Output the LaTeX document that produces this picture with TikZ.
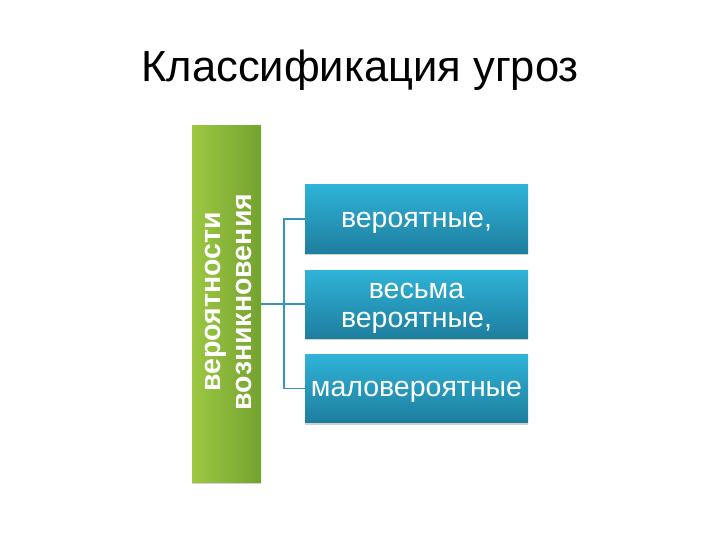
\documentclass[tikz,border=0pt]{standalone}
\usepackage{fontspec}
\setmainfont{Liberation Sans}
\usetikzlibrary{shadows}
\definecolor{gA}{HTML}{9CC843}
\definecolor{gB}{HTML}{74A22F}
\definecolor{bA}{HTML}{2FB3D8}
\definecolor{bB}{HTML}{1E7E9E}
\definecolor{lineC}{HTML}{3597B8}
\tikzset{
  greenbox/.style={draw=none, left color=gA, right color=gB, minimum width=69pt, minimum height=356pt, inner sep=0pt,
    drop shadow={shadow xshift=0pt, shadow yshift=-2pt, fill=black!30, opacity=0.6}},
  bluebox/.style={draw=none, top color=bA, bottom color=bB, minimum width=223pt, minimum height=68pt, inner sep=0pt,
    drop shadow={shadow xshift=0pt, shadow yshift=-2pt, fill=black!30, opacity=0.6}},
  bluetext/.style={anchor=base, text=white, font=\fontsize{28.5}{30}\selectfont, inner sep=0pt},
  conn/.style={draw=lineC, line width=1.3pt},
}
\begin{document}
\begin{tikzpicture}[x=1pt,y=-1pt]
\useasboundingbox (0,0) rectangle (720,540);
\node (title) at (360,70) {\fontsize{43.5}{48}\selectfont Классификация угроз};
\node[greenbox] (g) at (226.5,304) {};
\node[rotate=90, text=white, font=\bfseries\fontsize{28.5}{31}\selectfont, align=center, inner sep=0pt] (gt) at (228,302) {вероятности\\возникновения};
\node[bluebox] (b1) at (416.5,219) {};
\node[bluebox] (b2) at (416.5,304) {};
\node[bluebox] (b3) at (416.5,388.5) {};
\node[bluetext] (t1) at (416.5,228) {вероятные,};
\node[bluetext] (t2a) at (416.5,298) {весьма};
\node[bluetext] (t2b) at (416.5,327) {вероятные,};
\node[bluetext] (t3) at (416.5,396) {маловероятные};
\coordinate (j) at (284,304);
\draw[conn] (g.east) -- (j);
\draw[conn] (j) |- (b1.west);
\draw[conn] (j) -- (b2.west);
\draw[conn] (j) |- (b3.west);
\end{tikzpicture}
\end{document}
